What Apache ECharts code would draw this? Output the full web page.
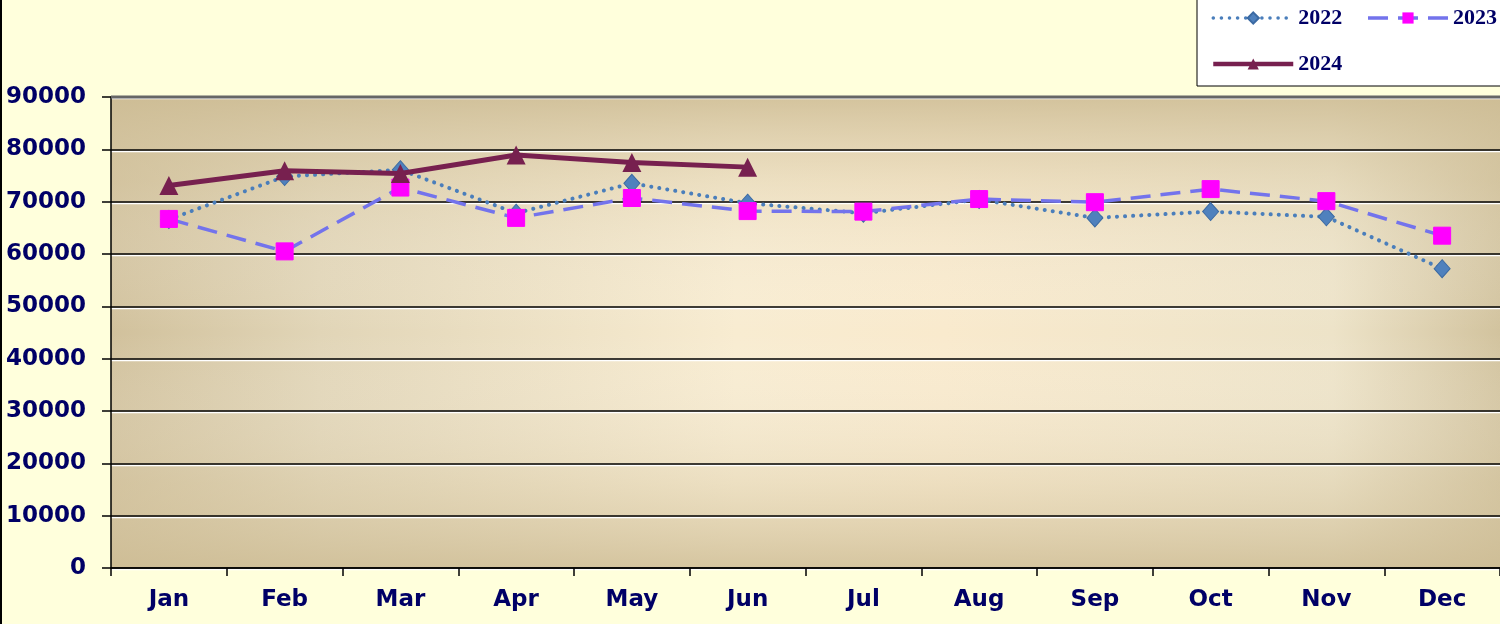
<!DOCTYPE html>
<html>
<head>
<meta charset="utf-8">
<script src="https://cdn.jsdelivr.net/npm/echarts@6/dist/echarts.min.js"></script>
<style>
html,body{margin:0;padding:0;background:#FFFFDC;}
#chart{width:1500px;height:624px;}
</style>
</head>
<body>
<div id="chart"></div>
<script>
var months = ['Jan','Feb','Mar','Apr','May','Jun','Jul','Aug','Sep','Oct','Nov','Dec'];
var seriesNames = ['2022','2023','2024'];
var values2022 = [66600, 74800, 76100, 67800, 73500, 69700, 67800, 70400, 66900, 68100, 67100, 57200];
var values2023 = [66700, 60500, 72700, 66900, 70700, 68200, 68100, 70500, 69900, 72400, 70100, 63500];
var values2024 = [73100, 75900, 75400, 78900, 77500, 76600];
var yTicks = {min: 0, max: 90000, interval: 10000};

var chart = echarts.init(document.getElementById('chart'));
var navy = '#000066';
var labelFont = {color: navy, fontFamily: 'DejaVu Sans', fontWeight: 'bold', fontSize: 23};

chart.setOption({
  backgroundColor: '#FFFFDC',
  animation: false,
  graphic: [
    {type: 'rect', z: -20, shape: {x: 111, y: 97, width: 1389, height: 471},
     style: {fill: new echarts.graphic.LinearGradient(0, 0, 1, 0, [
       {offset: 0, color: '#D1C19C'},
       {offset: 0.15, color: '#E1D5B7'},
       {offset: 0.45, color: '#F8ECD1'},
       {offset: 0.6, color: '#F9EACD'},
       {offset: 0.88, color: '#EDE3C8'},
       {offset: 1, color: '#D2C39E'}
     ])}},
    {type: 'rect', z: -19, shape: {x: 111, y: 97, width: 1389, height: 471},
     style: {fill: new echarts.graphic.LinearGradient(0, 0, 0, 1, [
       {offset: 0, color: 'rgba(205,188,148,0.85)'},
       {offset: 0.18, color: 'rgba(215,200,165,0.35)'},
       {offset: 0.5, color: 'rgba(255,255,255,0)'},
       {offset: 0.82, color: 'rgba(215,200,165,0.35)'},
       {offset: 1, color: 'rgba(205,188,148,0.8)'}
     ])}},
    {type: 'line', z: 10, shape: {x1: 1, y1: 0, x2: 1, y2: 624}, style: {stroke: '#000', lineWidth: 2}},
    {type: 'line', z: 10, shape: {x1: 111, y1: 97, x2: 1500, y2: 97}, style: {stroke: '#666', lineWidth: 3}}
  ],
  grid: {left: 111, right: 0, top: 97, bottom: 56, containLabel: false, show: false},
  legend: {
    data: [
      {name: '2022', lineStyle: {width: 3.5}},
      {name: '2023', lineStyle: {width: 3.5}},
      {name: '2024', lineStyle: {width: 4.5}}
    ],
    left: 1197, top: -1,
    orient: 'horizontal',
    width: 295,
    padding: [8, 10, 11, 14],
    itemGap: 24,
    itemWidth: 80,
    itemHeight: 14,
    backgroundColor: '#FFFFFF',
    borderColor: '#000',
    borderWidth: 1,
    textStyle: {color: navy, fontFamily: 'Liberation Serif', fontWeight: 'bold', fontSize: 22, lineHeight: 22}
  },
  xAxis: {
    type: 'category',
    data: months,
    boundaryGap: true,
    axisLine: {lineStyle: {color: '#000', width: 1.5}},
    axisTick: {show: true, length: 8, lineStyle: {color: '#000', width: 1.5}},
    axisLabel: Object.assign({margin: 21}, labelFont),
    splitLine: {show: false}
  },
  yAxis: {
    type: 'value',
    min: yTicks.min, max: yTicks.max, interval: yTicks.interval,
    axisLine: {show: true, lineStyle: {color: '#000', width: 1.5}},
    axisTick: {show: true, length: 9, lineStyle: {color: '#000', width: 1.5}},
    axisLabel: Object.assign({margin: 25, formatter: function (v) { return String(v); }}, labelFont),
    splitLine: {show: true, lineStyle: {color: '#000', width: 1.5, shadowColor: '#FFFFFF', shadowOffsetY: 1.5, shadowBlur: 0}}
  },
  series: [
    {
      name: '2022', type: 'line', data: values2022, z: 2,
      symbol: 'diamond', symbolSize: [16, 18],
      lineStyle: {color: '#4A7EBB', width: 4, type: [0.1, 8], cap: 'round'},
      itemStyle: {color: '#4F81BD', borderColor: '#3B6AA3', borderWidth: 1}
    },
    {
      name: '2023', type: 'line', data: values2023, z: 3,
      symbol: 'rect', symbolSize: 17,
      lineStyle: {color: '#7373EC', width: 3.5, type: [20, 10]},
      itemStyle: {color: '#FF00FF', borderColor: '#FF00FF'}
    },
    {
      name: '2024', type: 'line', data: values2024, z: 4,
      symbol: 'triangle', symbolSize: 19,
      lineStyle: {color: '#77204F', width: 5},
      itemStyle: {color: '#77204F'}
    }
  ]
});
</script>
</body>
</html>
